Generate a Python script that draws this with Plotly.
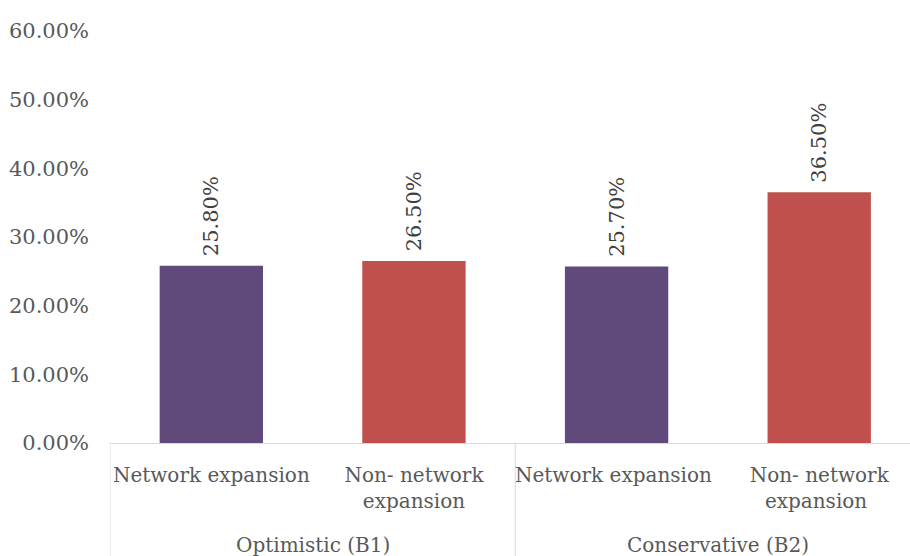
import plotly.graph_objects as go

scenarios = ["Optimistic (B1)", "Conservative (B2)"]
options = ["Network expansion", "Non- network<br>expansion", "Network expansion ", "Non- network<br>expansion "]
values = [0.258, 0.265, 0.257, 0.365]
colors = ["#604A7B", "#C0504D", "#604A7B", "#C0504D"]
yticks = [0, 0.1, 0.2, 0.3, 0.4, 0.5, 0.6]

FONT = "DejaVu Serif"
GRAY = "#595959"
LINE = "#D9D9D9"

fig = go.Figure(go.Bar(
    x=options,
    y=values,
    marker=dict(color=colors, line=dict(width=0)),
    width=0.51,
    text=["\u00a0" + f"{v*100:.2f}%" for v in values],
    textposition="outside",
    textangle=-90,
    cliponaxis=False,
    textfont=dict(family=FONT, size=21, color="#404040"),
))

fig.update_layout(
    width=910, height=556,
    margin=dict(l=110, r=0, t=31, b=113),
    paper_bgcolor="white", plot_bgcolor="white",
    showlegend=False,
    font=dict(family=FONT, size=20, color=GRAY),
)
fig.update_xaxes(
    type="category",
    range=[-0.5, 3.448],
    showline=True, linecolor=LINE, linewidth=1,
    showgrid=False, ticks="",
    ticklabelstandoff=14,
    tickfont=dict(family=FONT, size=20, color=GRAY),
    automargin=False,
)
fig.update_yaxes(
    range=[0, 0.6], tickvals=yticks, tickformat=".2%",
    showgrid=False, showline=False, zeroline=False, ticks="",
    ticklabelstandoff=20,
    tickfont=dict(family=FONT, size=21, color=GRAY),
    automargin=False,
)

# group labels and dividers
n_per_group = 2
for gi, name in enumerate(scenarios):
    center = gi * n_per_group + (n_per_group - 1) / 2
    fig.add_annotation(
        x=center, xref="x", y=-0.2476, yref="paper",
        text=name, showarrow=False, yanchor="middle",
        font=dict(family=FONT, size=20, color=GRAY),
    )
for b in [-0.5, 1.5, 3.5]:
    fig.add_shape(
        type="line", xref="x", yref="paper",
        x0=b, x1=b, y0=0, y1=-0.3,
        line=dict(color=LINE, width=1),
    )

fig.write_html("out.html")
